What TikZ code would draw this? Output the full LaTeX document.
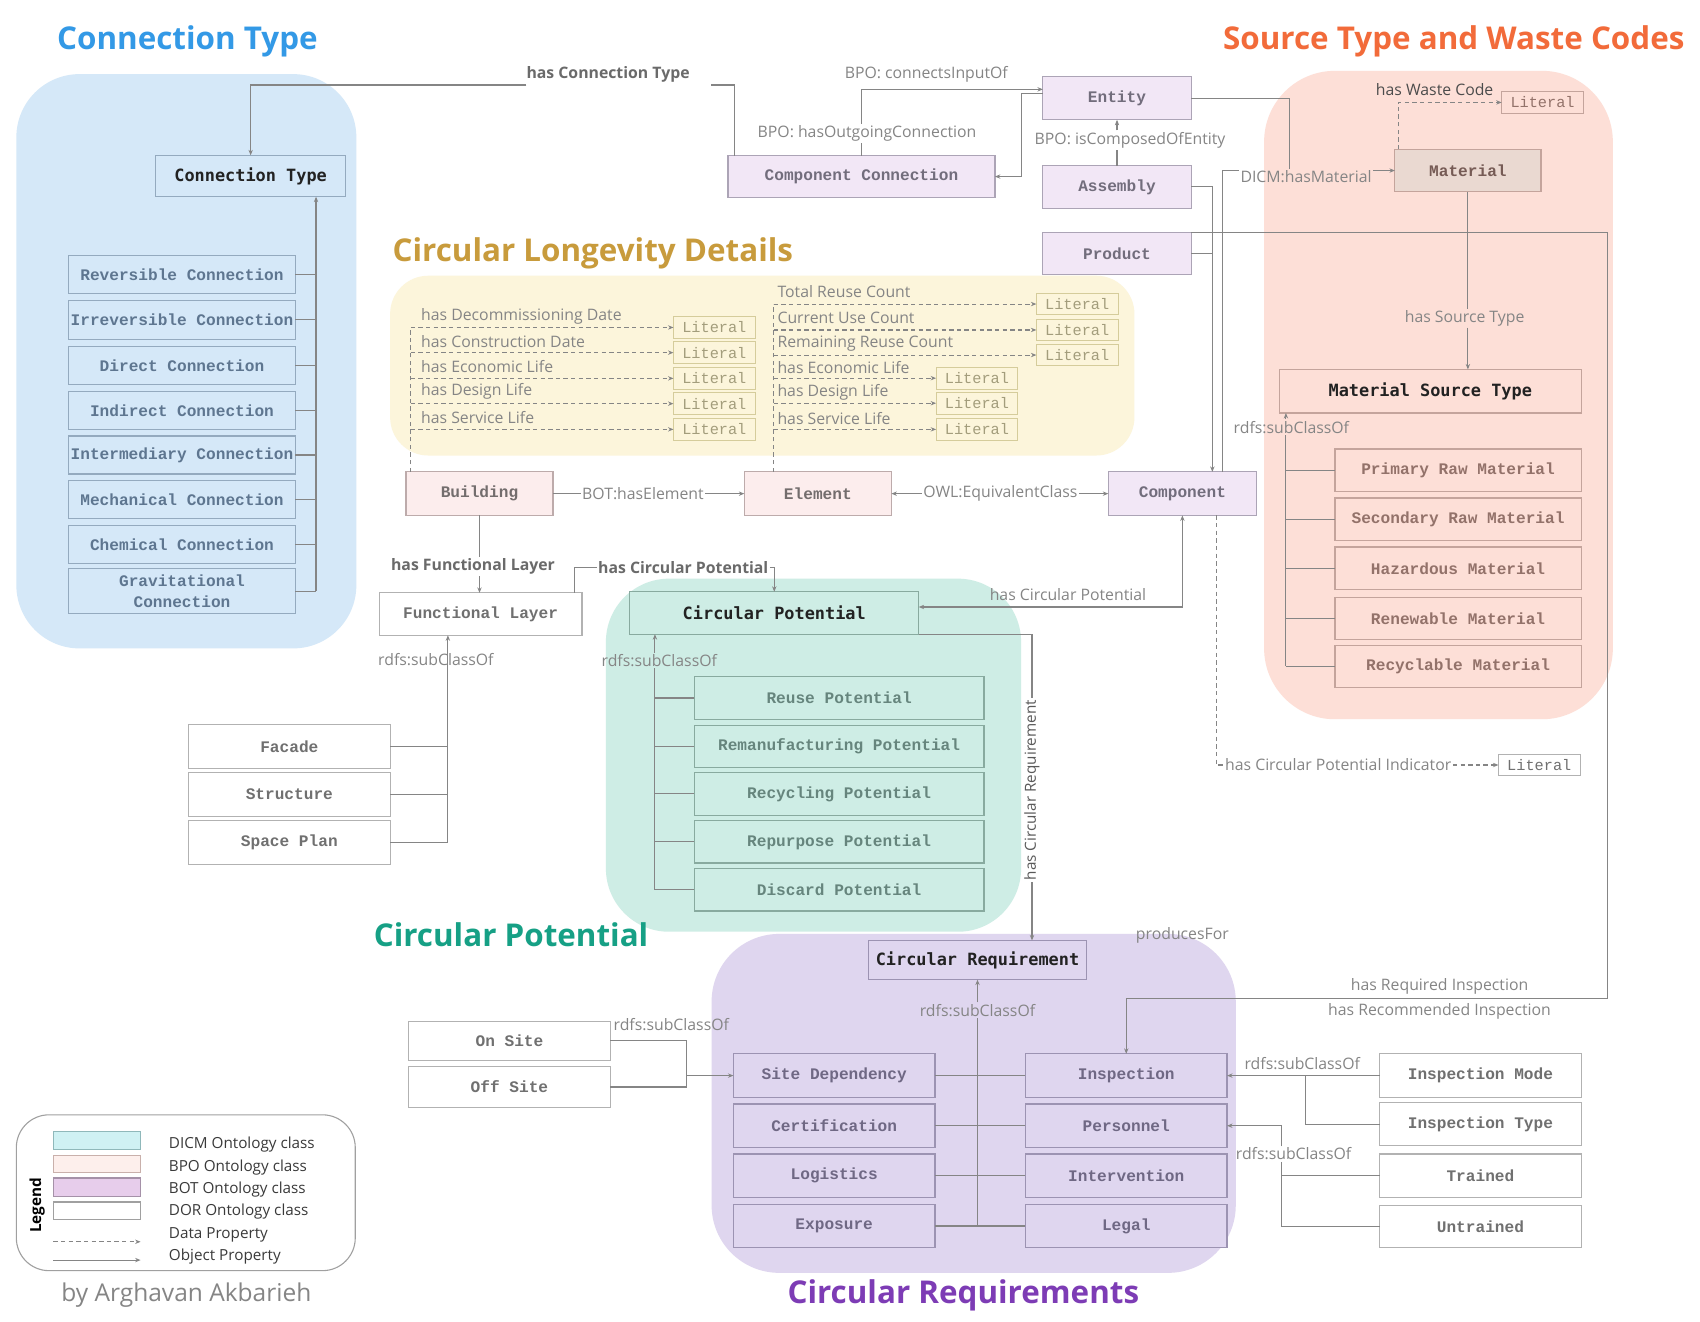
\documentclass[tikz,border=0pt]{standalone}
\usepackage{fontspec}
\setmainfont{Open Sans}
\newfontfamily\monofam{Liberation Mono}
\newfontfamily\darkfam{DejaVu Sans Mono}
\usetikzlibrary{arrows.meta,calc}

\definecolor{lineC}{HTML}{858585}
\definecolor{blueBg}{HTML}{D5E8F8}
\definecolor{blueBd}{HTML}{94AABF}
\definecolor{blueTx}{HTML}{5E7690}
\definecolor{yellowBg}{HTML}{FCF5DB}
\definecolor{litBd}{HTML}{D5CC9B}
\definecolor{litTx}{HTML}{A39D7C}
\definecolor{pinkBg}{HTML}{FDDFD7}
\definecolor{pinkBd}{HTML}{C4A49C}
\definecolor{pinkTx}{HTML}{93726A}
\definecolor{matFill}{HTML}{EAD9D1}
\definecolor{tealBg}{HTML}{CEEDE5}
\definecolor{tealBd}{HTML}{88AA9F}
\definecolor{tealTx}{HTML}{66857D}
\definecolor{purpBg}{HTML}{DFD6EF}
\definecolor{purpBd}{HTML}{9C93B2}
\definecolor{purpTx}{HTML}{6F6884}
\definecolor{botFill}{HTML}{F2E7F6}
\definecolor{botBd}{HTML}{ACA4B6}
\definecolor{botTx}{HTML}{726D7C}
\definecolor{bpoFill}{HTML}{FCEDED}
\definecolor{bpoBd}{HTML}{BDABAB}
\definecolor{bpoTx}{HTML}{736D6D}
\definecolor{dorBd}{HTML}{B2B2B2}
\definecolor{dorTx}{HTML}{707070}
\definecolor{darkTx}{HTML}{222222}
\definecolor{lblTx}{HTML}{858585}
\definecolor{blblTx}{HTML}{6A6A6A}
\definecolor{tBlue}{HTML}{3399E6}
\definecolor{tGold}{HTML}{C89B3C}
\definecolor{tOrange}{HTML}{F26B3A}
\definecolor{tTeal}{HTML}{16A085}
\definecolor{tPurple}{HTML}{7D3CB5}
\definecolor{legBd}{HTML}{A0A0A0}
\definecolor{legTx}{HTML}{3A3A3A}
\definecolor{swA}{HTML}{CFF1F3}
\definecolor{swAb}{HTML}{8FB8BA}
\definecolor{swB}{HTML}{FDEFEC}
\definecolor{swBb}{HTML}{C9B0AB}
\definecolor{swC}{HTML}{E7CDEB}
\definecolor{swCb}{HTML}{A591A8}

\newcommand\bxf{\monofam\bfseries\fontsize{14.8}{19.5}\selectfont}
\newcommand\dkf{\darkfam\bfseries\fontsize{15.5}{18}\selectfont}
\newcommand\lbf{\fontsize{14.5}{17}\selectfont}
\newcommand\ltf{\monofam\fontsize{14}{16}\selectfont}
\newcommand\ttlf{\bfseries\fontsize{28.8}{33}\selectfont}

\tikzset{
 every node/.style={inner sep=0pt, outer sep=0pt},
 base/.style={draw, rectangle, line width=1.1pt, font=\bxf, align=center},
 ctb/.style={base, fill=blueBg, draw=blueBd, text=blueTx},
 bot/.style={base, fill=botFill, draw=botBd, text=botTx},
 bpo/.style={base, fill=bpoFill, draw=bpoBd, text=bpoTx},
 dor/.style={base, fill=white, draw=dorBd, text=dorTx},
 tlb/.style={base, fill=tealBg, draw=tealBd, text=tealTx},
 pkb/.style={base, fill=pinkBg, draw=pinkBd, text=pinkTx},
 plb/.style={base, fill=purpBg, draw=purpBd, text=purpTx},
 dark/.style={font=\dkf, text=darkTx},
 lit/.style={draw, rectangle, line width=0.9pt, font=\ltf, minimum width=75pt, minimum height=20pt},
 lity/.style={lit, fill=yellowBg, draw=litBd, text=litTx},
 lbl/.style={font=\lbf, text=lblTx, inner sep=1.5pt},
 blbl/.style={font=\lbf\bfseries, text=blblTx, inner sep=1.5pt},
 ttl/.style={font=\ttlf},
 con/.style={draw=lineC, line width=1pt},
 arr/.style={con, -{Stealth[length=5pt,width=4pt]}},
 arrb/.style={con, {Stealth[length=5pt,width=4pt]}-{Stealth[length=5pt,width=4pt]}},
 dsh/.style={con, dash pattern=on 4pt off 3pt},
 darr/.style={dsh, -{Stealth[length=5pt,width=4pt]}},
 swatch/.style={draw, line width=1pt, minimum width=80pt, minimum height=17pt},
 legl/.style={anchor=west, font=\fontsize{14}{16}\selectfont, text=legTx},
}

\begin{document}
\begin{tikzpicture}[x=1pt,y=-1pt]
\fill[white] (0,0) rectangle (1560,1213);
\useasboundingbox (0,0) rectangle (1560,1213);

% ---------- regions ----------
\fill[blueBg, rounded corners=58pt] (15,68) rectangle (327,595);
\fill[yellowBg, rounded corners=35pt] (358,253) rectangle (1041,418);
\fill[pinkBg, rounded corners=65pt] (1160,65) rectangle (1480,660);
\fill[tealBg, rounded corners=58pt] (556,531) rectangle (937,855);
\fill[purpBg, rounded corners=62pt] (653,857) rectangle (1134,1168);

% ---------- titles ----------
\node[ttl, text=tBlue] (t1) at (172,38) {Connection Type};
\node[ttl, text=tGold] (t2) at (544,232.5) {Circular Longevity Details};
\node[ttl, text=tOrange] (t3) at (1334,38) {Source Type and Waste Codes};
\node[ttl, text=tTeal] (t4) at (469,858) {Circular Potential};
\node[ttl, text=tPurple] (t5) at (884,1189) {Circular Requirements};
\node[font=\fontsize{22.5}{26}\selectfont, text=lblTx] (auth) at (171,1188) {by Arghavan Akbarieh};

% ---------- connection type group ----------
\node[ctb, dark, minimum width=174pt, minimum height=38pt] (ct) at (230,161.5) {Connection Type};
\tikzset{cch/.style={ctb, minimum width=208pt, minimum height=35pt}}
\node[cch] (rev) at (167,252) {Reversible Connection};
\node[cch, minimum height=36pt] (irr) at (167,293.5) {Irreversible Connection};
\node[cch] (dir) at (167,335.5) {Direct Connection};
\node[cch] (ind) at (167,376.5) {Indirect Connection};
\node[cch] (imd) at (167,417.5) {Intermediary Connection};
\node[cch] (mec) at (167,458.5) {Mechanical Connection};
\node[cch] (chm) at (167,499.5) {Chemical Connection};
\node[cch, minimum height=41pt] (grv) at (167,542.5) {Gravitational\\Connection};
\coordinate (cbus) at (290,0);
\draw[arr] (cbus |- grv.east) -- (cbus |- ct.south);
\foreach \n in {rev,irr,dir,ind,imd,mec,chm,grv} \draw[con] (\n.east) -- (cbus |- \n.east);

% ---------- BOT / BPO core ----------
\node[bot, minimum width=245pt, minimum height=38pt] (cc) at (790.5,162) {Component Connection};
\node[bot, minimum width=136pt, minimum height=40pt] (ent) at (1025,90) {Entity};
\node[bot, minimum width=136pt, minimum height=39pt] (asm) at (1025,171.5) {Assembly};
\node[bot, minimum width=136pt, minimum height=39pt] (prod) at (1025,232.5) {Product};
\node[bot, minimum width=136pt, minimum height=40pt] (comp) at (1085,453) {Component};
\node[bpo, minimum width=135pt, minimum height=40pt] (bld) at (440,453) {Building};
\node[bpo, minimum width=135pt, minimum height=40pt] (elm) at (750.5,453) {Element};

% has Connection Type
\node[blbl] (lhct) at (558,68) {has Connection Type};
\coordinate (hctR) at (652,78);
\coordinate (hctL) at (483,78);
\draw[con] ([xshift=6pt]cc.north west) |- (hctR);
\draw[arr] (hctL) -| (ct.north);

% BPO connections
\node[lbl] (lho) at (795.6,122.4) {BPO: hasOutgoingConnection};
\node[lbl] (lci) at (850,68) {BPO: connectsInputOf};
\draw[con] (cc.north) -- (cc.north |- lho.south);
\draw[arr] (cc.north |- lho.north) |- ([yshift=8pt]ent.west);
\draw[arr] ([yshift=4pt]ent.west) -- ++(-20,0) |- (cc.east);
\node[lbl] (lic) at (1037,128.5) {BPO: isComposedOfEntity};
\draw[con] (asm.north) -- (asm.north |- lic.south);
\draw[arr] (asm.north |- lic.north) -- (ent.south);
\draw[arr] (asm.east) -| ([xshift=27.5pt]comp.north);
\draw[con] (prod.east) -- ++(19.5,0);

% ---------- source type group ----------
\node[base, fill=matFill, draw=pinkBd, text=pinkTx!80!black, minimum width=134pt, minimum height=39pt] (mat) at (1347,156.5) {Material};
\node[lit, fill=pinkBg, draw=pinkBd, text=pinkTx] (wlit) at (1415.5,94) {Literal};
\node[lbl, text=black!70] (lwc) at (1316.5,82) {has Waste Code};
\draw[darr] ([xshift=3pt]mat.north west) |- (wlit.west);
\node[pkb, dark, minimum width=277pt, minimum height=40pt] (mst) at (1312.5,359) {Material Source Type};
\tikzset{pch/.style={pkb, minimum width=226pt, minimum height=39pt}}
\node[pch] (pri) at (1338,431.5) {Primary Raw Material};
\node[pch] (sec) at (1338,476.5) {Secondary Raw Material};
\node[pch] (haz) at (1338,521.5) {Hazardous Material};
\node[pch] (ren) at (1338,567.5) {Renewable Material};
\node[pch] (rcl) at (1338,611.5) {Recyclable Material};
\node[lbl] (hst) at (1344,292) {has Source Type};
\draw[con] (mat.south) -- (mat.south |- hst.north);
\draw[arr] (mat.south |- hst.south) -- (mat.south |- mst.north);
\node[lbl] (lms) at (1185,392) {rdfs:subClassOf};
\coordinate (mb) at (1180,0);
\draw[con] (mb |- rcl.west) -- (mb |- lms.south);
\draw[arr] (mb |- lms.north) -- (mb |- mst.south);
\foreach \n in {pri,sec,haz,ren,rcl} \draw[con] (\n.west) -- (mb |- \n.west);

% DICM:hasMaterial
\node[lbl] (hm) at (1198.5,162.5) {DICM:hasMaterial};
\draw[con] (ent.east) -| ([xshift=-15.5pt]hm.north);
\draw[con] ([xshift=37pt]comp.north) |- (hm.west |- mat.west);
\draw[arr] (hm.east |- mat.west) -- (mat.west);

\coordinate (rcorner) at (1475,916);

% ---------- longevity ----------
\node[lity] (la1) at (655.5,300.5) {Literal};
\node[lity] (la2) at (655.5,323.6) {Literal};
\node[lity] (la3) at (655.5,347.2) {Literal};
\node[lity] (la4) at (655.5,370.4) {Literal};
\node[lity] (la5) at (655.5,394) {Literal};
\node[lity] (lb1) at (988.5,279) {Literal};
\node[lity] (lb2) at (988.5,302.8) {Literal};
\node[lity] (lb3) at (988.5,325.8) {Literal};
\node[lity] (lb4) at (896.5,347) {Literal};
\node[lity] (lb5) at (896.5,370) {Literal};
\node[lity] (lb6) at (896.5,394) {Literal};
\node[lbl, anchor=west] (d1) at (385,290) {has Decommissioning Date};
\node[lbl, anchor=west] (d2) at (385,313) {has Construction Date};
\node[lbl, anchor=west] (d3) at (385,336.5) {has Economic Life};
\node[lbl, anchor=west] (d4) at (385,359.5) {has Design Life};
\node[lbl, anchor=west] (d5) at (385,383) {has Service Life};
\node[lbl, anchor=west] (e1) at (712,268) {Total Reuse Count};
\node[lbl, anchor=west] (e2) at (712,292) {Current Use Count};
\node[lbl, anchor=west] (e3) at (712,315) {Remaining Reuse Count};
\node[lbl, anchor=west] (e4) at (712,337) {has Economic Life};
\node[lbl, anchor=west] (e5) at (712,360) {has Design Life};
\node[lbl, anchor=west] (e6) at (712,384.5) {has Service Life};
\coordinate (lv) at ([xshift=-63pt]bld.north);
\draw[dsh] (lv) -- (lv |- la1.west);
\foreach \n in {la1,la2,la3,la4,la5} \draw[darr] (lv |- \n.west) -- (\n.west);
\coordinate (rv) at ([xshift=-40.5pt]elm.north);
\draw[dsh] (rv) -- (rv |- lb1.west);
\foreach \n in {lb1,lb2,lb3,lb4,lb5,lb6} \draw[darr] (rv |- \n.west) -- (\n.west);

% ---------- building row connectors ----------
\node[lbl] (lbe) at (590,453) {BOT:hasElement};
\draw[con] (bld.east) -- (lbe.west);
\draw[arr] (lbe.east) -- (elm.west);
\node[lbl] (lowl) at (918,453) {OWL:EquivalentClass};
\draw[arr] (lowl.west) -- (elm.east);
\draw[arr] (lowl.east) -- (comp.west);

% ---------- functional layer ----------
\node[dor, minimum width=186pt, minimum height=39pt] (fl) at (441,563.5) {Functional Layer};
\node[blbl] (lhfl) at (434,520) {has Functional Layer};
\draw[con] (bld.south) -- (bld.south |- lhfl.north);
\draw[arr] (bld.south |- lhfl.south) -- (bld.south |- fl.north);
\tikzset{fch/.style={dor, minimum width=185pt, minimum height=40pt}}
\node[fch] (fac) at (265.5,685) {Facade};
\node[fch] (str) at (265.5,729) {Structure};
\node[fch] (spc) at (265.5,773) {Space Plan};
\coordinate (fb) at (411,0);
\draw[arr] (fb |- spc.east) -- (fb |- fl.south);
\foreach \n in {fac,str,spc} \draw[con] (\n.east) -- (fb |- \n.east);
\node[lbl] (lfl) at (400,605) {rdfs:subClassOf};

% ---------- circular potential ----------
\node[tlb, dark, minimum width=265pt, minimum height=39pt] (cp) at (710.5,562.5) {Circular Potential};
\node[blbl] (lhcp) at (627,521) {has Circular Potential};
\draw[con] ([xshift=86pt]fl.north) |- (lhcp.west);
\draw[arr] (lhcp.east) -| (cp.north);
\tikzset{tch/.style={tlb, minimum width=266pt, minimum height=39pt}}
\node[tch] (reu) at (770,640.5) {Reuse Potential};
\node[tch] (rem) at (770,685) {Remanufacturing Potential};
\node[tch] (rcy) at (770,728.5) {Recycling Potential};
\node[tch] (rep) at (770,772.5) {Repurpose Potential};
\node[tch] (dis) at (770,816.5) {Discard Potential};
\node[lbl] (lcp) at (605,606) {rdfs:subClassOf};
\coordinate (pb) at (601,0);
\draw[con] (pb |- dis.west) -- (pb |- lcp.south);
\draw[arr] (pb |- lcp.north) -- (pb |- cp.south);
\foreach \n in {reu,rem,rcy,rep,dis} \draw[con] (\n.west) -- (pb |- \n.west);
\node[lbl] (lcp2) at (980,546) {has Circular Potential};
\draw[arrb] (comp.south) |- ([yshift=5.5pt]cp.east);

% circular potential indicator
\node[lit, fill=white, draw=dorBd, text=dorTx] (cpil) at (1412.5,702) {Literal};
\node[lbl] (cpi) at (1228,702) {has Circular Potential Indicator};
\draw[dsh] ([xshift=31pt]comp.south) |- (cpi.west);
\draw[darr] (cpi.east) -- (cpil.west);

% ---------- circular requirements ----------
\node[plb, dark, minimum width=200pt, minimum height=36pt] (cr) at (897,881) {Circular Requirement};
\draw[arr] (cp.south east) -| ([xshift=50pt]cr.north);
\node[lbl, rotate=90, fill=white, text=black!65, font=\fontsize{14}{16}\selectfont] (lhcr) at (947,725) {has Circular Requirement};
\tikzset{rch/.style={plb, minimum width=185pt, minimum height=40pt}}
\node[rch] (sd) at (765.5,987) {Site Dependency};
\node[rch] (cert) at (765.5,1033) {Certification};
\node[rch] (logi) at (765.5,1079) {Logistics};
\node[rch] (expo) at (765.5,1125) {Exposure};
\node[rch] (insp) at (1033.5,987) {Inspection};
\node[rch] (pers) at (1033.5,1033) {Personnel};
\node[rch] (intv) at (1033.5,1079) {Intervention};
\node[rch] (legal) at (1033.5,1125) {Legal};
\node[lbl] (lcr) at (897,927) {rdfs:subClassOf};
\draw[con] (cr.south |- expo.east) -- (cr.south |- lcr.south);
\draw[arr] (cr.south |- lcr.north) -- (cr.south);
\draw[con] (sd.east) -- (insp.west);
\draw[con] (cert.east) -- (pers.west);
\draw[con] (logi.east) -- (intv.west);
\draw[con] (expo.east) -- (legal.west);
\node[lbl] (lpf) at (1085,858) {producesFor};

\draw[arr] (prod.north east) -| (rcorner) -| (insp.north);
\node[lbl] (lri) at (1321,905) {has Required Inspection};
\node[lbl] (lrc) at (1321,928) {has Recommended Inspection};

% on / off site
\node[dor, minimum width=185pt, minimum height=36pt] (ons) at (467.5,955) {On Site};
\node[dor, minimum width=185pt, minimum height=37pt] (offs) at (467.5,997.5) {Off Site};
\node[lbl] (los) at (616,940) {rdfs:subClassOf};
\coordinate (ob) at (630,0);
\draw[con] (ons.east) -| (ob |- offs.east) -- (offs.east);
\draw[arr] (ob |- sd.west) -- (sd.west);

% inspection mode / type, trained / untrained
\node[dor, minimum width=185pt, minimum height=40pt] (imode) at (1358.5,987) {Inspection Mode};
\node[dor, minimum width=185pt, minimum height=39pt] (itype) at (1358.5,1031.5) {Inspection Type};
\node[dor, minimum width=185pt, minimum height=40pt] (trn) at (1358.5,1079) {Trained};
\node[dor, minimum width=185pt, minimum height=39pt] (untr) at (1358.5,1125.5) {Untrained};
\node[lbl] (lim) at (1195,976) {rdfs:subClassOf};
\draw[arr] (imode.west) -- (insp.east);
\coordinate (ib) at (1198,0);
\draw[con] (ib |- imode.west) |- (itype.west);
\node[lbl] (lper) at (1187,1059) {rdfs:subClassOf};
\coordinate (pbx) at (1176,0);
\draw[arr] (pbx |- lper.north) |- (pers.east);
\draw[con] (pbx |- lper.south) |- (untr.west);
\draw[con] (pbx |- trn.west) -- (trn.west);

% ---------- legend ----------
\node[draw=legBd, line width=1pt, rounded corners=30pt, minimum width=311pt, minimum height=143pt] (leg) at (170.5,1094.5) {};
\node[rotate=90, font=\bfseries\fontsize{14}{16}\selectfont, text=black] (legt) at (34,1106) {Legend};
\node[swatch, fill=swA, draw=swAb] (sw1) at (89,1046.5) {};
\node[swatch, fill=swB, draw=swBb, minimum height=16pt] (sw2) at (89,1068) {};
\node[swatch, fill=swC, draw=swCb] (sw3) at (89,1089.5) {};
\node[swatch, fill=white, draw=legBd, minimum height=16pt] (sw4) at (89,1111) {};
\coordinate (dpa) at (49,1139.5);
\coordinate (dpb) at (129,1139.5);
\coordinate (opa) at (49,1156.3);
\coordinate (opb) at (129,1156.3);
\draw[darr] (dpa) -- (dpb);
\draw[arr] (opa) -- (opb);
\node[legl] (lg1) at (155,1050) {DICM Ontology class};
\node[legl] (lg2) at (155,1071.6) {BPO Ontology class};
\node[legl] (lg3) at (155,1091.5) {BOT Ontology class};
\node[legl] (lg4) at (155,1111.3) {DOR Ontology class};
\node[legl] (lg5) at (155,1133.4) {Data Property};
\node[legl] (lg6) at (155,1153.2) {Object Property};
\end{tikzpicture}
\end{document}
